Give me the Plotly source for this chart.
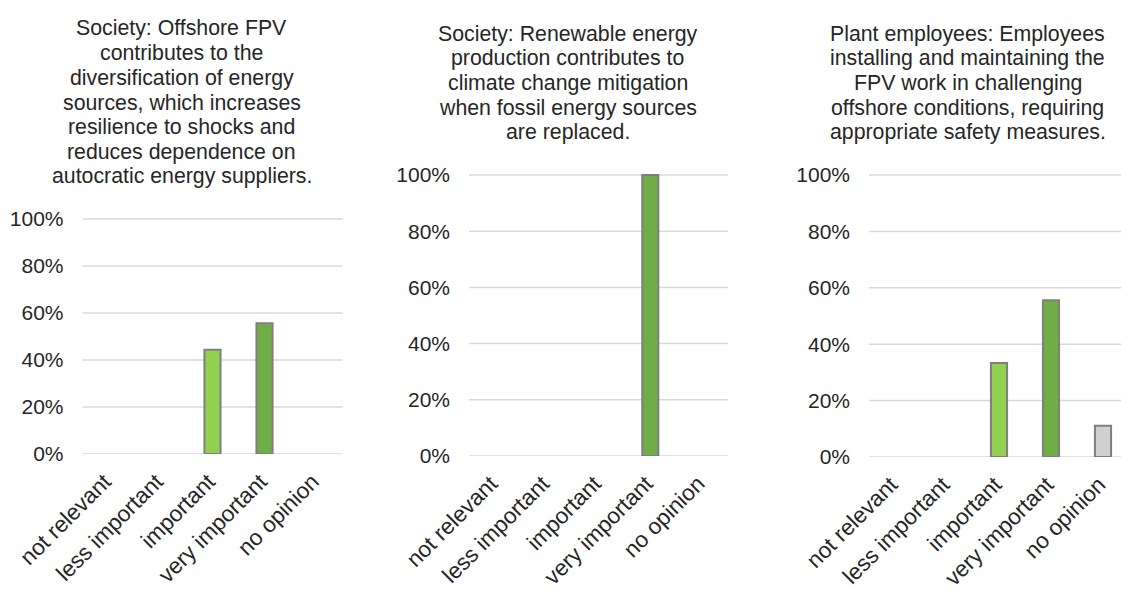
import plotly.graph_objects as go

categories = ["not relevant", "less important", "important", "very important", "no opinion"]
colors = ["#C00000", "#FFC000", "#92D050", "#70AD47", "#D0D0D0"]
y_ticks = [0, 0.2, 0.4, 0.6, 0.8, 1.0]

titles = [
    ["Society: Offshore FPV", "contributes to the", "diversification of energy",
     "sources, which increases", "resilience to shocks and",
     "reduces dependence on", "autocratic energy suppliers."],
    ["Society: Renewable energy", "production contributes to",
     "climate change mitigation", "when fossil energy sources", "are replaced."],
    ["Plant employees: Employees", "installing and maintaining the",
     "FPV work in challenging", "offshore conditions, requiring",
     "appropriate safety measures."],
]

values_society_diversification = [0.0, 0.0, 0.444, 0.556, 0.0]
values_society_climate = [0.0, 0.0, 0.0, 1.0, 0.0]
values_plant_employees = [0.0, 0.0, 0.333, 0.556, 0.111]
series = [values_society_diversification, values_society_climate, values_plant_employees]

W, H = 1121, 589
FONT = "Liberation Sans, Arial, sans-serif"
TXT = "#262626"
GRID = "#D9D9D9"
YMAX = 1.05

panels = [
    dict(x0=82.5, x1=342.5, ytop=219, ybot=454, cw=52.0, tcx=181.5, tl=[28, 53, 78, 103, 127, 152, 176]),
    dict(x0=469, x1=728, ytop=175, ybot=456, cw=51.8, tcx=567.5, tl=[34, 58, 83, 108, 132]),
    dict(x0=869, x1=1121, ytop=175, ybot=457, cw=52.0, tcx=967.5, tl=[34, 58, 83, 108, 132]),
]

fig = go.Figure()
annotations = []
shapes = []
for i, (p, vals, tl) in enumerate(zip(panels, series, titles)):
    n = i + 1
    xa = "x" if n == 1 else f"x{n}"
    ya = "y" if n == 1 else f"y{n}"
    fig.add_trace(go.Bar(
        x=categories, y=vals, xaxis=xa, yaxis=ya,
        marker=dict(color=colors,
                    line=dict(color="#7F7F7F", width=[2 if v > 0 else 0 for v in vals])),
        width=0.31, showlegend=False, hoverinfo="skip",
    ))
    xr = [-0.5, -0.5 + (p["x1"] - p["x0"]) / p["cw"]]
    axkey_x = "xaxis" if n == 1 else f"xaxis{n}"
    axkey_y = "yaxis" if n == 1 else f"yaxis{n}"
    span = p["ybot"] - p["ytop"]
    top_px = p["ybot"] - span * YMAX
    fig.layout[axkey_x] = dict(
        domain=[p["x0"] / W, p["x1"] / W], anchor=ya, range=xr,
        tickangle=-45, tickfont=dict(family=FONT, size=22.5, color=TXT),
        ticklabelstandoff=9, ticklabelshift=-4,
        showgrid=False, showline=False, ticks="", automargin=False,
        categoryorder="array", categoryarray=categories, fixedrange=True,
    )
    fig.layout[axkey_y] = dict(
        domain=[(H - p["ybot"]) / H, (H - top_px) / H], anchor=xa,
        range=[0, YMAX],
        tickmode="array", tickvals=y_ticks, tickformat=".0%",
        tickfont=dict(family=FONT, size=21, color=TXT),
        showgrid=False, zeroline=False,
        showline=False, ticks="", ticklabelstandoff=18, automargin=False,
        fixedrange=True,
    )
    # horizontal gridlines at every y tick, across the x domain
    for t in y_ticks:
        shapes.append(dict(
            type="line", layer="below", xref=f"{xa} domain", yref=ya,
            x0=0, x1=1, y0=t, y1=t, line=dict(color=GRID, width=1.5),
        ))
    for line, yy in zip(tl, p["tl"]):
        annotations.append(dict(
            text=line, x=p["tcx"] / W, y=(H - yy) / H, xref="paper", yref="paper",
            xanchor="center", yanchor="middle", showarrow=False,
            font=dict(family=FONT, size=21.3, color=TXT),
        ))

fig.update_layout(
    width=W, height=H, margin=dict(l=0, r=0, t=0, b=0),
    paper_bgcolor="white", plot_bgcolor="white",
    annotations=annotations, shapes=shapes,
)
fig.write_html("out.html", config={"displayModeBar": False})
